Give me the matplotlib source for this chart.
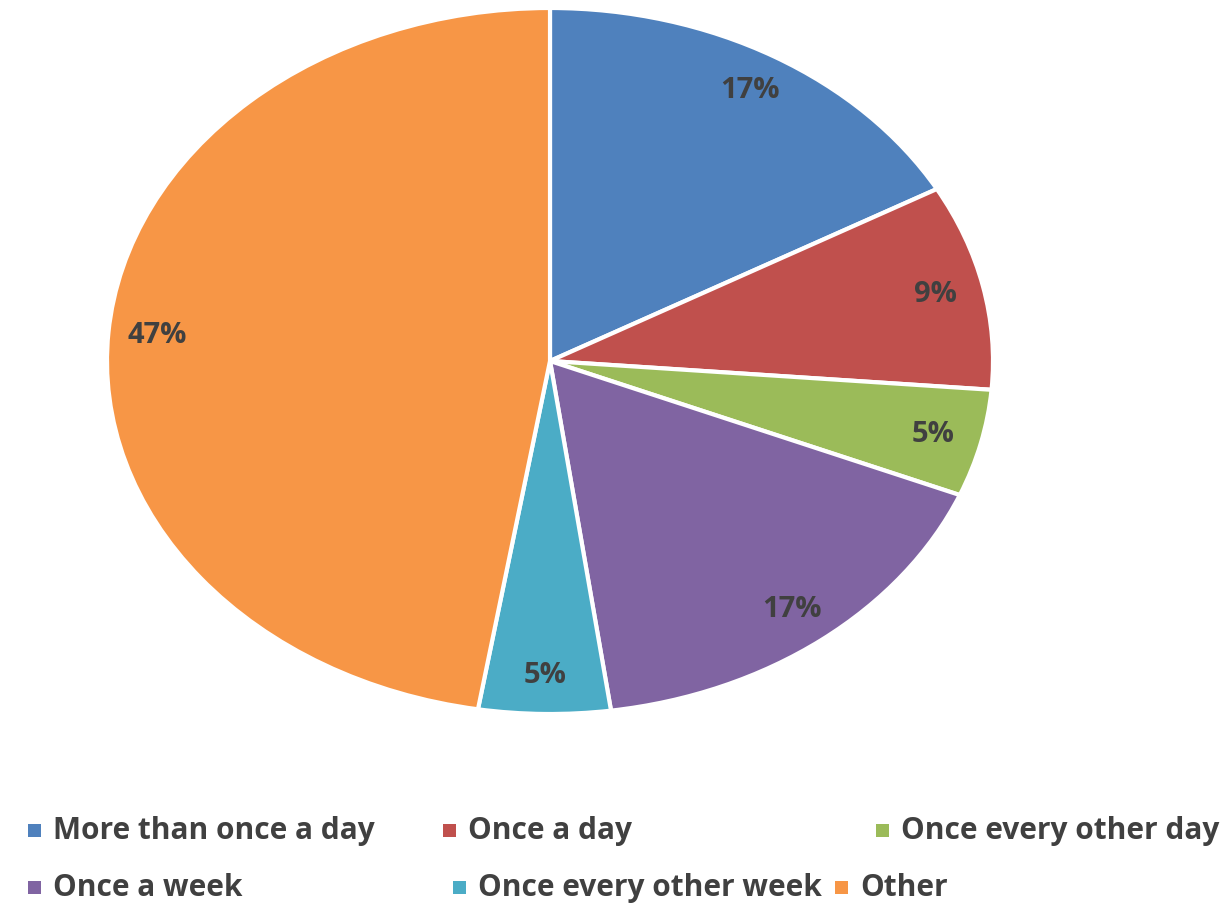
import matplotlib
matplotlib.use("Agg")
import matplotlib.pyplot as plt
import matplotlib.patches as mpatches

# ---------------------------------------------------------------------------
# Data
# ---------------------------------------------------------------------------
categories = ["More than once a day", "Once a day", "Once every other day",
              "Once a week", "Once every other week", "Other"]
shares = [16.9, 9.4, 4.9, 16.6, 4.8, 47.4]
colors = ["#4F81BD", "#C0504D", "#9BBB59", "#8064A2", "#4BACC6", "#F79646"]

text_color = "#404040"
font = "Open Sans"

fig = plt.figure(figsize=(12.30, 9.06), dpi=100)

# pie is drawn as an ellipse (axes aspect left free)
ax = fig.add_axes([107 / 1230, 1 - 714 / 906, 886 / 1230, 706 / 906])
wedges, texts, autotexts = ax.pie(
    shares, colors=colors, startangle=90, counterclock=False,
    autopct="%1.0f%%", pctdistance=0.89, radius=1.0,
    wedgeprops=dict(edgecolor="white", linewidth=3),
    textprops=dict(fontsize=21, fontweight="bold", color=text_color,
                   family=font))
ax.set_aspect("auto")
ax.set_xlim(-1.0, 1.0)
ax.set_ylim(-1.0, 1.0)
ax.axis("off")

# legend laid out like the Excel flow legend (two rows)
legend_pos = [(28, 831), (443, 831), (876, 831),
              (28, 888), (453, 888), (835, 888)]
for (px, py), lab, col in zip(legend_pos, categories, colors):
    fig.patches.append(mpatches.Rectangle(
        (px / 1230, 1 - (py + 6) / 906), 13 / 1230, 13 / 906,
        transform=fig.transFigure, facecolor=col, edgecolor="none"))
    fig.text((px + 25) / 1230, 1 - py / 906, lab, fontsize=21.5,
             fontweight="bold", color=text_color, family=font,
             va="center", ha="left")

fig.savefig("out.png", dpi=100, facecolor="white")
plt.close(fig)
